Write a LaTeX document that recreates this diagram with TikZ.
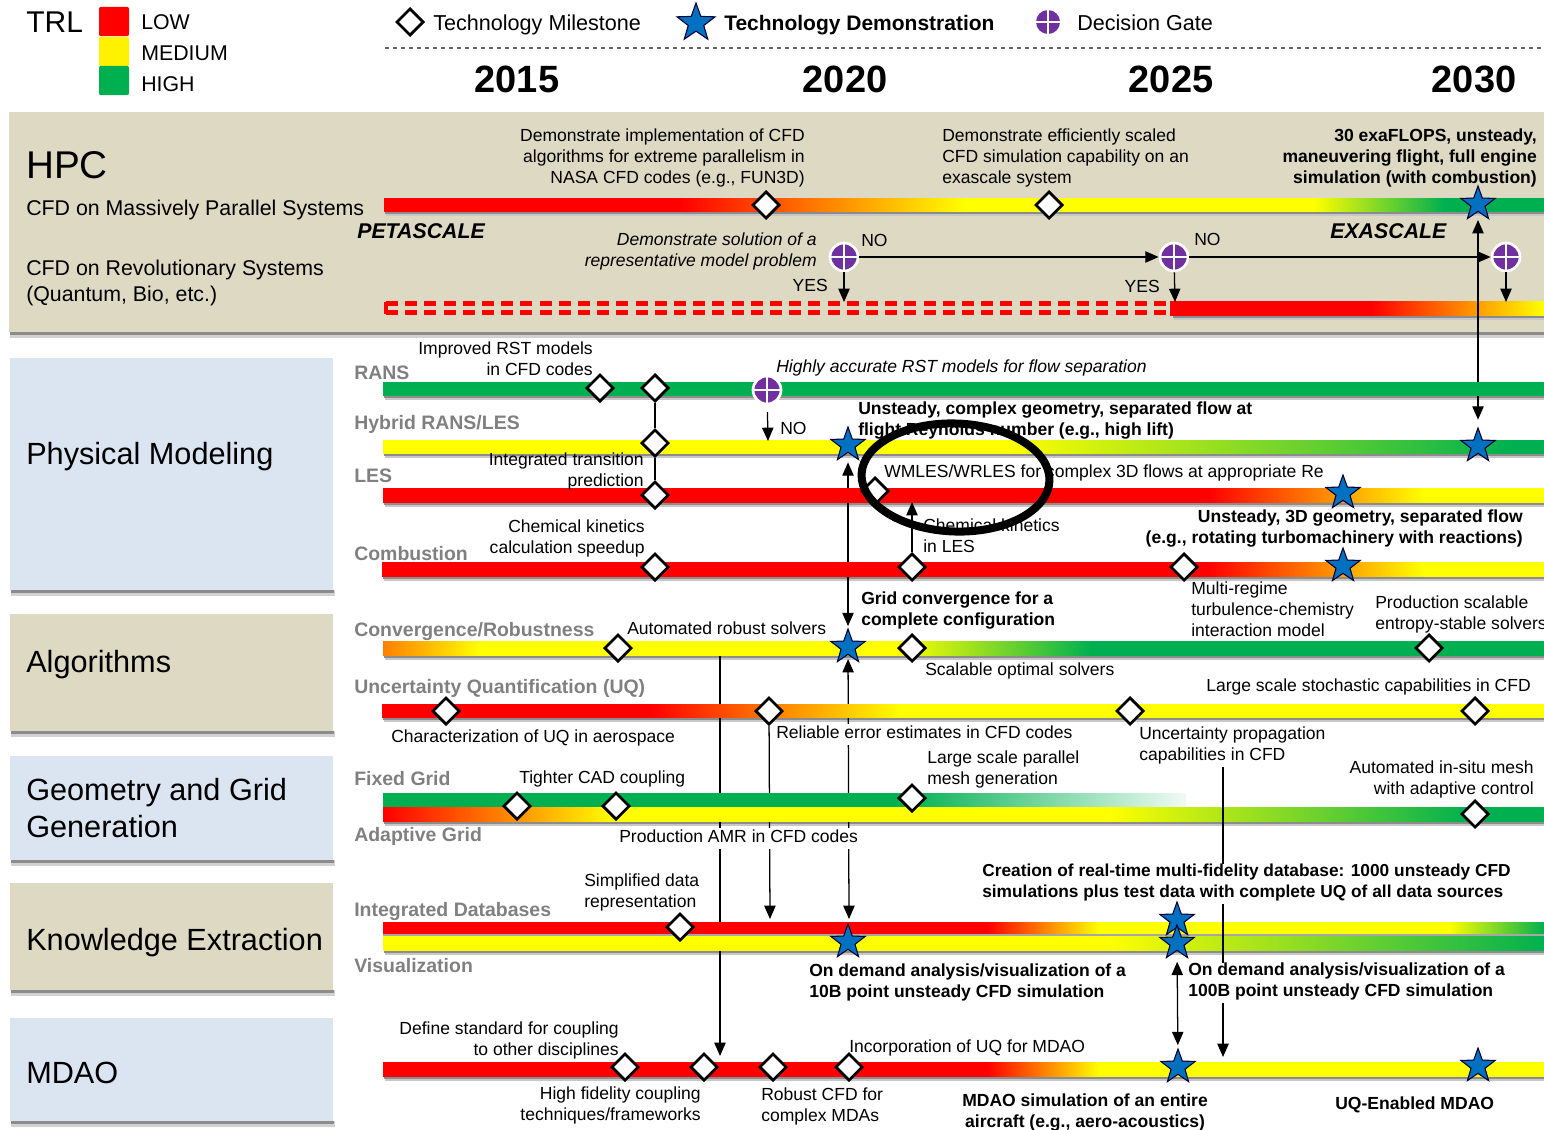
\documentclass[tikz,border=0pt]{standalone}
\usepackage{fontspec}
\setmainfont{Liberation Sans}
\usetikzlibrary{shapes.geometric,arrows.meta}
\pgfdeclarelayer{bg}\pgfdeclarelayer{shad}\pgfdeclarelayer{lines}\pgfdeclarelayer{bars}\pgfdeclarelayer{upper}
\pgfsetlayers{bg,shad,lines,bars,upper,main}
\definecolor{beige}{HTML}{DDD9C3}
\definecolor{panelblue}{HTML}{DBE5F1}
\definecolor{trlgreen}{HTML}{00B050}
\definecolor{starblue}{HTML}{0070C0}
\definecolor{gatepurple}{HTML}{7030A0}
\definecolor{trackgray}{HTML}{808080}
\tikzset{
 txt/.style={inner sep=0pt,yshift=-2.3pt,execute at begin node=\strut,execute at end node=\strut,font=\fontsize{13.15}{15.75}\selectfont},
 tl/.style={txt,anchor=west,align=left},
 tr/.style={txt,anchor=east,align=right},
 bl/.style={tl,font=\fontsize{13.15}{15.75}\selectfont\bfseries},
 br/.style={tr,font=\fontsize{13.15}{15.75}\selectfont\bfseries},
 bc/.style={txt,anchor=center,align=center,font=\fontsize{13.15}{15.75}\selectfont\bfseries},
 ir/.style={tr,font=\fontsize{13.15}{15.75}\selectfont\itshape},
 il/.style={tl,font=\fontsize{13.15}{15.75}\selectfont\itshape},
 track/.style={txt,anchor=west,text=trackgray,font=\fontsize{14.6}{17}\selectfont\bfseries},
 panelt/.style={anchor=west,align=left,inner sep=0pt,yshift=-1.3pt,font=\fontsize{23}{28}\selectfont},
 sub/.style={txt,anchor=west,align=left,font=\fontsize{16}{19.5}\selectfont},
 scalelab/.style={txt,anchor=west,font=\fontsize{16}{19}\selectfont\bfseries\itshape},
 year/.style={inner sep=0pt,font=\fontsize{28.5}{32}\selectfont\bfseries},
 leg/.style={txt,anchor=west,font=\fontsize{16}{19}\selectfont},
 msdiamond/.style={diamond,aspect=1,draw=black,fill=white,line width=2pt,inner sep=0pt,minimum width=20.5pt,minimum height=20.5pt},
 msstar/.style={star,star points=5,star point ratio=2.45,draw=black!80!blue,fill=starblue,line width=.8pt,inner sep=0pt,minimum size=27pt},
 gate/.style={circle,draw=white,fill=gatepurple,line width=2pt,inner sep=0pt,minimum size=21pt,
   path picture={\draw[white,line width=1.3pt] (path picture bounding box.north)--(path picture bounding box.south)
   (path picture bounding box.west)--(path picture bounding box.east);}},
 gateleg/.style={gate,draw=none,minimum size=18pt},
 arr/.style={-{Triangle[length=10pt,width=8.5pt]},line width=.95pt,black},
 darr/.style={{Triangle[length=10pt,width=8.5pt]}-{Triangle[length=10pt,width=8.5pt]},line width=.95pt,black},
 plain/.style={line width=.95pt,black},
 wh/.style={fill=white},
}
\newcommand{\seg}[6]{\shade[left color=#5,right color=#6] (#3,#1) rectangle (#4+.4,#2);}
\newcommand{\barshadow}[3]{\fill[black!22] (#2+2,#1) rectangle (#3,#1+5);\fill[black!45] (#2+1,#1) rectangle (#3,#1+3);}
\newcommand{\panel}[5]{\fill[black!18] (#1+1,#4) rectangle (#2+2,#4+6);\fill[black!45] (#1+1,#4) rectangle (#2+1,#4+3);\fill[#5] (#1,#3) rectangle (#2,#4);}
\begin{document}
\begin{tikzpicture}[x=.75pt,y=-.75pt]
\useasboundingbox (0,0) rectangle (1544,1129);
\begin{pgfonlayer}{bg}
 \panel{9}{1544}{112}{332}{beige}
 \panel{10}{333}{358}{590}{panelblue}
 \panel{10}{333}{614}{731}{beige}
 \panel{10}{333}{756}{860}{panelblue}
 \panel{10}{333}{883}{990}{beige}
 \panel{10}{333}{1018}{1121}{panelblue}
 % HPC bars
 \barshadow{211}{384}{1544}
 \seg{198}{211}{384}{680}{red}{red}
 \seg{198}{211}{680}{965}{red}{yellow}
 \seg{198}{211}{965}{1313}{yellow}{yellow}
 \seg{198}{211}{1313}{1444}{yellow}{trlgreen}
 \seg{198}{211}{1444}{1544}{trlgreen}{trlgreen}
 \draw[red,line width=3.5pt,dash pattern=on 9pt off 5.4pt] (386,303.5)--(1172,303.5);
 \draw[red,line width=3.5pt,dash pattern=on 9pt off 5.4pt] (386,312.5)--(1172,312.5);
 \draw[red,line width=3pt] (385.5,302)--(385.5,314);
 \barshadow{315}{1172}{1544}
 \seg{301}{315}{1170}{1371}{red}{red}
 \seg{301}{315}{1371}{1544}{red}{yellow}
\end{pgfonlayer}
\begin{pgfonlayer}{shad}
 \barshadow{395}{383}{1544}
 \barshadow{453}{383}{1544}
 \barshadow{502}{383}{1544}
 \barshadow{576}{382}{1544}
 \barshadow{655}{383}{1544}
 \barshadow{717}{382}{1544}
 \fill[black!22] (900,807) rectangle (1186,809);
 \barshadow{821}{383}{1544}
 \barshadow{934}{383}{1544}
 \barshadow{950}{383}{1544}
 \barshadow{1076}{383}{1544}
\end{pgfonlayer}
\begin{pgfonlayer}{bars}
 \seg{382}{395}{383}{1544}{trlgreen}{trlgreen}
 \seg{440}{453}{383}{1006}{yellow}{yellow}
 \seg{440}{453}{1006}{1513}{yellow}{trlgreen}
 \seg{440}{453}{1513}{1544}{trlgreen}{trlgreen}
 \seg{488}{502}{383}{1208}{red}{red}
 \seg{488}{502}{1208}{1424}{red}{yellow}
 \seg{488}{502}{1424}{1544}{yellow}{yellow}
 \seg{562}{576}{382}{1208}{red}{red}
 \seg{562}{576}{1208}{1424}{red}{yellow}
 \seg{562}{576}{1424}{1544}{yellow}{yellow}
 \seg{641}{655}{383}{480}{orange}{yellow}
 \seg{641}{655}{480}{900}{yellow}{yellow}
 \seg{641}{655}{900}{1090}{yellow}{trlgreen}
 \seg{641}{655}{1090}{1544}{trlgreen}{trlgreen}
 \seg{704}{717}{382}{650}{red}{red}
 \seg{704}{717}{650}{900}{red}{yellow}
 \seg{704}{717}{900}{1544}{yellow}{yellow}
 \seg{793}{807}{383}{900}{trlgreen}{trlgreen}
 \seg{793}{807}{900}{1185}{trlgreen}{trlgreen!6}
 \seg{807}{821}{383}{615}{red}{yellow}
 \seg{807}{821}{615}{1109}{yellow}{yellow}
 \seg{807}{821}{1109}{1470}{yellow}{trlgreen}
 \seg{807}{821}{1470}{1544}{trlgreen}{trlgreen}
 \seg{922}{934}{383}{987}{red}{red}
 \seg{922}{934}{987}{1099}{red}{yellow}
 \seg{922}{934}{1099}{1448}{yellow}{yellow}
 \seg{922}{934}{1448}{1544}{yellow}{trlgreen}
 \fill[black!35] (383,934) rectangle (1544,936);
 \seg{936}{950}{383}{1108}{yellow}{yellow}
 \seg{936}{950}{1108}{1544}{yellow}{trlgreen}
 \seg{1062}{1076}{383}{987}{red}{red}
 \seg{1062}{1076}{987}{1099}{red}{yellow}
 \seg{1062}{1076}{1099}{1544}{yellow}{yellow}
\end{pgfonlayer}
% legend
\node[anchor=west,inner sep=0pt,font=\fontsize{22.5}{26}\selectfont] (trl) at (26,22) {TRL};
\node[fill=red,rounded corners=1.5pt,minimum width=22.5pt,minimum height=22pt,inner sep=0pt] (lowbox) at (114,21.5) {};
\node[fill=yellow,rounded corners=1.5pt,minimum width=22.5pt,minimum height=22pt,inner sep=0pt] (medbox) at (114,51.5) {};
\node[fill=trlgreen,rounded corners=1.5pt,minimum width=22.5pt,minimum height=22pt,inner sep=0pt] (highbox) at (114,80.5) {};
\node[leg] (low) at (141,21) {LOW};
\node[leg] (med) at (141,52) {MEDIUM};
\node[leg] (high) at (141,83) {HIGH};
\node[msdiamond] (legd) at (410,22) {};
\node[leg,font=\fontsize{16.2}{19}\selectfont] (legdt) at (433,22) {Technology Milestone};
\node[msstar,minimum size=30pt] (legs) at (696,23) {};
\node[leg,font=\fontsize{15.75}{19}\selectfont\bfseries] (legst) at (724,22) {Technology Demonstration};
\node[gateleg] (legg) at (1048,22) {};
\node[leg,font=\fontsize{16.2}{19}\selectfont] (leggt) at (1077,22) {Decision Gate};
\coordinate (dl) at (385,48); \coordinate (dr) at (1544,48);
\draw[black!60,dashed,line width=.8pt] (dl)--(dr);
\node[year] (y1) at (517,79) {2015};
\node[year] (y2) at (845,79) {2020};
\node[year] (y3) at (1171,79) {2025};
\node[year] (y4) at (1474,79) {2030};
% panels
\node[panelt,font=\fontsize{29}{34}\selectfont] (hpc) at (26,163) {HPC};
\node[sub] (cfd1) at (26,207) {CFD on Massively Parallel Systems};
\node[sub] (cfd2) at (26,282) {CFD on Revolutionary Systems\\(Quantum, Bio, etc.)};
\node[panelt] (pm) at (26,455) {Physical Modeling};
\node[panelt] (alg) at (26,663) {Algorithms};
\node[panelt] (geo) at (26,806) {Geometry and Grid\\Generation};
\node[panelt] (ke) at (26,941) {Knowledge Extraction};
\node[panelt] (mdao) at (26,1071) {MDAO};
% HPC
\node[scalelab] (peta) at (357,230) {PETASCALE};
\node[scalelab] (exa) at (1330,230) {EXASCALE};
\node[tr] (t1) at (805,156) {Demonstrate implementation of CFD\\algorithms for extreme parallelism in\\NASA CFD codes (e.g., FUN3D)};
\node[tl] (t2) at (942,156) {Demonstrate efficiently scaled\\CFD simulation capability on an\\exascale system};
\node[br] (t3) at (1537,156) {30 exaFLOPS, unsteady,\\maneuvering flight, full engine\\simulation (with combustion)};
\node[msdiamond] (d1) at (766,205) {};
\node[msdiamond] (d2) at (1049,205) {};
\node[msstar] (s1) at (1478,204) {};
\node[ir] (t4) at (817,250) {Demonstrate solution of a\\representative model problem};
\node[gate] (g1) at (844,257) {};
\node[gate] (g2) at (1174,257) {};
\node[gate] (g3) at (1506,257) {};
\node[tl] (no1) at (861,239) {NO};
\node[tl] (no2) at (1194,238) {NO};
\node[tr] (yes1) at (828,284) {YES};
\node[tr] (yes2) at (1160,285) {YES};
\coordinate (a1) at (844,302); \coordinate (a2) at (1175,302); \coordinate (a3) at (1506,302);
\draw[arr] (g1)--(g2);
\draw[arr] (g2)--(g3);
\draw[arr] (g1)--(a1);
\draw[arr] (g2)--(a2);
\draw[arr] (g3)--(a3);
% tracks
\node[track] (l1) at (354,372) {RANS};
\node[track] (l2) at (354,422) {Hybrid RANS/LES};
\node[track] (l3) at (354,475) {LES};
\node[track] (l4) at (354,553) {Combustion};
\node[track] (l5) at (354,629) {Convergence/Robustness};
\node[track] (l6) at (354,686) {Uncertainty Quantification  (UQ)};
\node[track] (l7) at (354,778) {Fixed Grid};
\node[track] (l8) at (354,834) {Adaptive Grid};
\node[track] (l9) at (354,909) {Integrated Databases};
\node[track] (l10) at (354,965) {Visualization};
% RANS / hybrid / LES
\node[tr] (t5) at (593,358.5) {Improved RST models\\in CFD codes};
\node[msdiamond] (d3) at (600,388) {};
\node[msdiamond] (d4) at (655,388) {};
\node[gate] (g4) at (767,390) {};
\node[il] (t6) at (776,365) {Highly accurate RST models for flow separation};
\node[tl] (no3) at (780,427) {NO};
\coordinate (a4) at (768,441);
\draw[arr,shorten <=5pt] (g4)--(a4);
\node[bl] (t7) at (858,418.5) {Unsteady, complex geometry, separated flow at\\flight Reynolds number (e.g., high lift)};
\node[msdiamond] (d5) at (655,443) {};
\node[msstar] (s2) at (848,445) {};
\node[msstar] (s3) at (1478,446) {};
\node[tr] (t8) at (644,469.5) {Integrated transition\\prediction};
\node[tl] (t9) at (884,470) {WMLES/WRLES for complex 3D flows at appropriate Re};
\node[msdiamond] (d6) at (655,495) {};
\node[msdiamond] (d7) at (875,491) {};
\node[msstar] (s4) at (1343,493) {};
% combustion
\node[tr] (t10) at (645,536.5) {Chemical kinetics\\calculation speedup};
\node[tl] (t11) at (923,535.5) {Chemical kinetics\\in LES};
\node[br,wh] (t12) at (1523,526.5) {Unsteady, 3D geometry, separated flow\\(e.g., rotating turbomachinery with reactions)};
\node[msdiamond] (d8) at (655,567) {};
\node[msdiamond] (d9) at (912,567) {};
\node[msdiamond] (d10) at (1184,567) {};
\node[msstar] (s5) at (1343,566) {};
\coordinate (a5) at (912,502);
\draw[arr] (d9)--(a5);
\node[tl] (t13) at (1191,609) {Multi-regime\\turbulence-chemistry\\interaction model};
% convergence
\node[tl] (t14) at (627,627) {Automated robust solvers};
\node[bl] (t15) at (861,608.5) {Grid convergence for a\\complete configuration};
\node[tl] (t16) at (1375,612.5) {Production scalable\\entropy-stable solvers};
\node[tl] (t17) at (925,668) {Scalable optimal solvers};
\node[msdiamond] (d11) at (618,648) {};
\node[msstar] (s6) at (848,647) {};
\node[msdiamond] (d12) at (912,648) {};
\node[msdiamond] (d13) at (1429,648) {};
% UQ
\node[msdiamond] (d14) at (446,711) {};
\node[msdiamond] (d15) at (769,711) {};
\node[msdiamond] (d16) at (1130,711) {};
\node[msdiamond] (d17) at (1475,711) {};
\node[tl] (t18) at (1206,684) {Large scale stochastic capabilities in CFD};
\node[tl] (t19) at (391,735) {Characterization of UQ in aerospace};
\node[tl,wh] (t20) at (776,731) {Reliable error estimates in CFD codes};
\node[tl,wh] (t21) at (1139,743.5) {Uncertainty propagation\\capabilities in CFD};
% grid
\node[tl] (t22) at (519,776) {Tighter CAD coupling};
\node[tl,wh] (t23) at (927,767.5) {Large scale parallel\\mesh generation};
\node[tr] (t24) at (1534,777.5) {Automated in-situ mesh\\with adaptive control};
\node[msdiamond] (d18) at (517,806) {};
\node[msdiamond] (d19) at (616,806) {};
\node[msdiamond] (d20) at (912,798) {};
\node[msdiamond] (d21) at (1475,814) {};
\node[tl,wh] (t25) at (619,835) {Production AMR in CFD codes};
% knowledge
\node[tl] (t26) at (584,890.5) {Simplified data\\representation};
\node[bl,wh,font=\fontsize{13}{15.75}\selectfont\bfseries] (t27) at (982,880.5) {Creation of real-time multi-fidelity database: 1000 unsteady CFD\\simulations plus test data with complete UQ of all data sources};
\node[msdiamond] (d22) at (680,927) {};
\node[msstar] (s7) at (1177,920) {};
\node[msstar] (s8) at (1177,943) {};
\node[msstar] (s9) at (848,942) {};
\node[bl] (t28) at (809,980.5) {On demand analysis/visualization of a\\10B point unsteady CFD simulation};
\node[bl,wh] (t29) at (1188,979.5) {On demand analysis/visualization of a\\100B point unsteady CFD simulation};
% MDAO
\node[tr] (t30) at (619,1038.5) {Define standard for coupling\\to other disciplines};
\node[msdiamond] (d23) at (625,1067) {};
\node[msdiamond] (d24) at (704,1067) {};
\node[msdiamond] (d25) at (773,1067) {};
\node[msdiamond] (d26) at (849,1067) {};
\node[msstar] (s10) at (1178,1067) {};
\node[msstar] (s11) at (1478,1066) {};
\node[tl] (t31) at (849,1045) {Incorporation of UQ for MDAO};
\node[tr] (t32) at (701,1103.5) {High fidelity coupling\\techniques/frameworks};
\node[tl] (t33) at (761,1104.5) {Robust CFD for\\complex MDAs};
\node[bc] (t34) at (1085,1110.5) {MDAO simulation of an entire\\aircraft (e.g., aero-acoustics)};
\node[bl] (t35) at (1335,1102) {UQ-Enabled MDAO};
% vertical connectors
\coordinate (c1) at (720,655); \coordinate (c2) at (720,1056);
\coordinate (c3) at (770,919);
\coordinate (c4) at (849,919);
\coordinate (c5) at (1223,765); \coordinate (c6) at (1223,1057);
\coordinate (c7) at (1478,421);
\begin{pgfonlayer}{lines}
 \draw[plain] (d4)--(d5);
 \draw[plain] (d5)--(d6);
 \draw[darr,shorten <=6pt,shorten >=1pt] (s1)--(c7);
 \draw[darr,shorten <=7pt,shorten >=1pt] (s2)--(s6);
 \draw[arr] (c1)--(c2);
 \draw[arr] (d15)--(c3);
 \draw[darr,shorten <=3pt] (s6)--(c4);
\end{pgfonlayer}
\begin{pgfonlayer}{upper}
 \draw[arr] (c5)--(c6);
\end{pgfonlayer}
\draw[darr,shorten <=8pt,shorten >=2pt] (s8)--(s10);
\node[ellipse,draw=black,line width=6pt,minimum width=141pt,minimum height=81pt,inner sep=0pt,rotate=-2] (ring) at (955.5,477.5) {};
\end{tikzpicture}
\end{document}
